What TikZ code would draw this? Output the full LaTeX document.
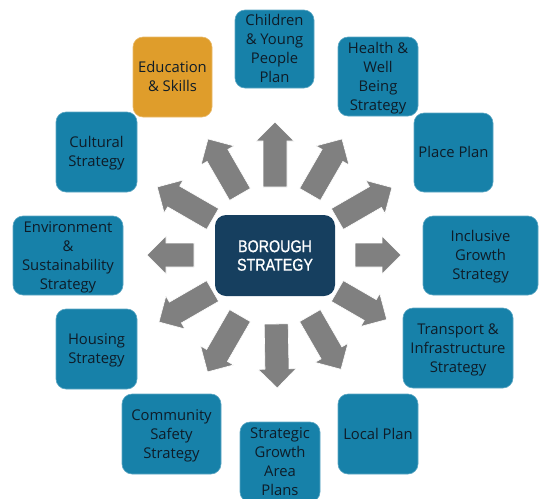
\documentclass[tikz,border=0pt]{standalone}
\usepackage{fontspec}
\setmainfont{Open Sans}
\newfontfamily\hubfont[FakeStretch=0.84,FakeBold=0.9]{Liberation Sans}
\usetikzlibrary{calc}

\definecolor{boxblue}{HTML}{1781A9}
\definecolor{boxorange}{HTML}{DF9D2B}
\definecolor{hubnavy}{HTML}{163F5F}
\definecolor{arrowgray}{HTML}{808080}
\definecolor{ink}{HTML}{0E1C28}

\tikzset{
  planbox/.style={rounded corners=10pt, fill=boxblue, draw=boxblue!70!white,
    line width=0.6pt, text=ink, inner sep=0pt,
    font=\fontsize{14.8}{19}\selectfont},
  hubbox/.style={rounded corners=11pt, fill=hubnavy, text=white, align=center,
    inner sep=0pt, minimum width=120pt, minimum height=81pt,
    font=\hubfont\fontsize{17}{18.5}\selectfont},
  blockarrow/.style={fill=arrowgray, draw=white, line width=0.6pt}
}
% centred lines, set a little below the middle of their box
\newcommand{\boxtext}[1]{\raisebox{-1.5pt}[\height][\depth]{%
  \begin{tabular}{@{}c@{}}#1\end{tabular}}}

\begin{document}
\begin{tikzpicture}[x=1pt, y=-1pt]
\useasboundingbox (0,0) rectangle (542,499);

% central hub
\node[hubbox] (hub) at (275,255.5) {BOROUGH\\STRATEGY};

% radiating block arrows: angle / inner radius / outer radius
\foreach \a/\ri/\ro in {90/68/133, 60/70/134, 30/72/135, 0/80/126,
    -30/72/129, -60/70/132, -89/69/133, -120/70/135, -150/72/134,
    180/81/128, 150/72/136, 120/70/134}{
  \begin{scope}[shift={(275,255)}, rotate=\a]
    \path[blockarrow] (\ri,-12) -- ({\ro-19},-12) -- ({\ro-19},-19) --
      (\ro,0) -- ({\ro-19},19) -- ({\ro-19},12) -- (\ri,12) -- cycle;
  \end{scope}
}

% surrounding plans and strategies
\node[planbox, minimum width=79pt, minimum height=78pt] (children) at (274.5,49)
  {\boxtext{Children\\\& Young\\People\\Plan}};
\node[planbox, fill=boxorange, draw=boxorange!70!white, minimum width=79pt, minimum height=80pt]
  (education) at (172.5,77) {\boxtext{Education\\\& Skills}};
\node[planbox, minimum width=80pt, minimum height=79pt] (health) at (378,76.5)
  {\boxtext{Health \&\\Well\\Being\\Strategy}};
\node[planbox, minimum width=79pt, minimum height=79pt] (place) at (453.5,152.5)
  {\boxtext{Place Plan}};
\node[planbox, minimum width=115pt, minimum height=79pt] (inclusive) at (480.5,255.5)
  {\boxtext{Inclusive\\Growth\\Strategy}};
\node[planbox, minimum width=110pt, minimum height=80pt] (transport) at (458,348)
  {\boxtext{Transport \&\\Infrastructure\\Strategy}};
\node[planbox, minimum width=80pt, minimum height=80pt] (local) at (378,434)
  {\boxtext{Local Plan}};
\node[planbox, minimum width=80pt, minimum height=80pt] (growth) at (280,462)
  {\boxtext{Strategic\\Growth\\Area\\Plans}};
\node[planbox, minimum width=99pt, minimum height=80pt] (community) at (171.5,434)
  {\boxtext{Community\\Safety\\Strategy}};
\node[planbox, minimum width=81pt, minimum height=80pt] (housing) at (96.5,349)
  {\boxtext{Housing\\Strategy}};
\node[planbox, minimum width=110pt, minimum height=79pt] (environment) at (68,255.5)
  {\boxtext{Environment\\\&\\Sustainability\\Strategy}};
\node[planbox, minimum width=81pt, minimum height=80pt] (cultural) at (96.5,152)
  {\boxtext{Cultural\\Strategy}};
\end{tikzpicture}
\end{document}
